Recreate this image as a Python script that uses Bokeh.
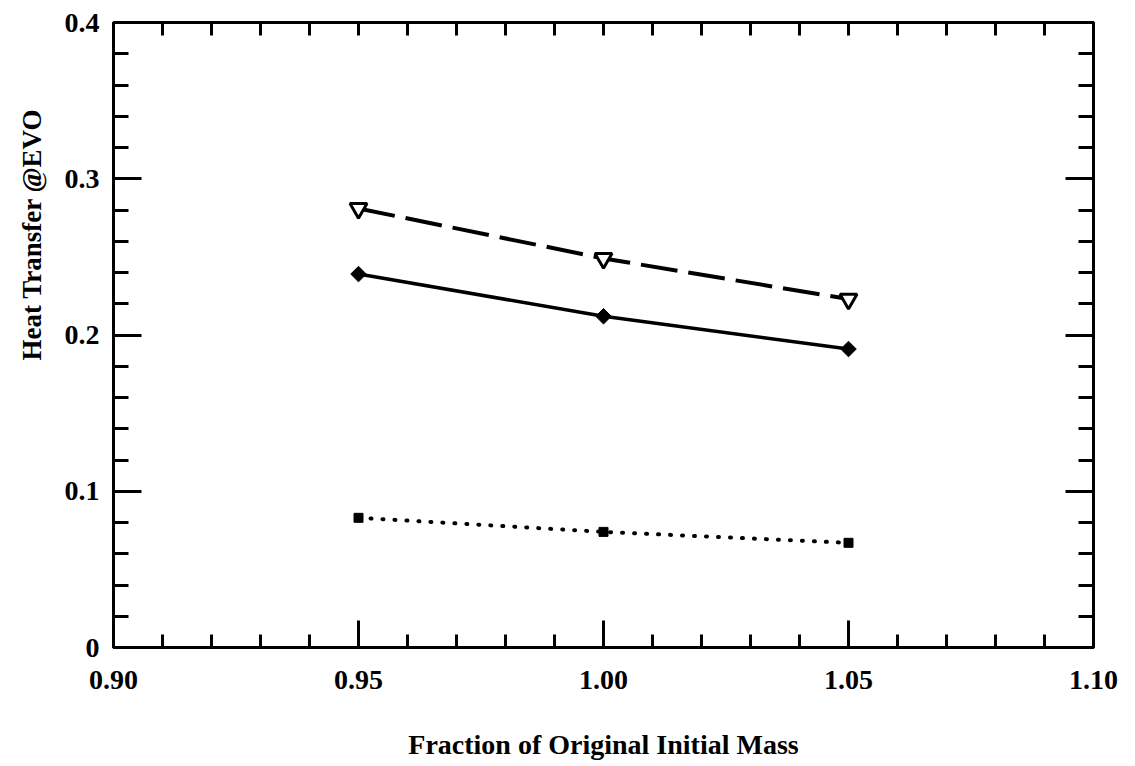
import math
from bokeh.plotting import figure
from bokeh.models import (FixedTicker, LinearAxis, Range1d, Title,
                          CustomLabelingPolicy)
from bokeh.embed import file_html
from bokeh.resources import INLINE

# ---- data ----
x_vals = [0.95, 1.00, 1.05]
tri_vals = [0.281, 0.249, 0.223]
dia_vals = [0.239, 0.212, 0.191]
sq_vals = [0.083, 0.074, 0.067]

x_ticks = [0.90, 0.95, 1.00, 1.05, 1.10]
x_tick_labels = ["0.90", "0.95", "1.00", "1.05", "1.10"]
x_minor = [0.91, 0.92, 0.93, 0.94, 0.96, 0.97, 0.98, 0.99,
           1.01, 1.02, 1.03, 1.04, 1.06, 1.07, 1.08, 1.09]
y_ticks = [0, 0.1, 0.2, 0.3, 0.4]
y_tick_labels = ["0", "0.1", "0.2", "0.3", "0.4"]
y_minor = [0.02, 0.04, 0.06, 0.08, 0.12, 0.14, 0.16, 0.18,
           0.22, 0.24, 0.26, 0.28, 0.32, 0.34, 0.36, 0.38]

x_title = "Fraction of Original Initial Mass"
y_title = "Heat Transfer @EVO"

FONT = "Liberation Serif"

p = figure(width=1131, height=762,
           x_range=Range1d(0.90, 1.10), y_range=Range1d(0, 0.4),
           output_backend="svg", toolbar_location=None,
           min_border_left=113, min_border_right=28,
           min_border_top=22, min_border_bottom=110)
p.xgrid.visible = False
p.ygrid.visible = False
p.outline_line_color = "black"
p.outline_line_width = 3
p.background_fill_color = "white"
p.border_fill_color = "white"

xt = FixedTicker(ticks=x_ticks, minor_ticks=x_minor)
yt = FixedTicker(ticks=y_ticks, minor_ticks=y_minor)

def style_axis(ax, major_in, minor_in):
    ax.axis_line_color = "black"
    ax.axis_line_width = 3
    ax.major_tick_in = major_in
    ax.major_tick_out = 0
    ax.minor_tick_in = minor_in
    ax.minor_tick_out = 0
    ax.major_tick_line_width = 3
    ax.minor_tick_line_width = 3
    ax.major_tick_line_color = "black"
    ax.minor_tick_line_color = "black"
    ax.major_label_text_font = FONT
    ax.major_label_text_font_style = "bold"
    ax.major_label_text_font_size = "28px"
    ax.major_label_text_color = "black"

xa = p.xaxis[0]
xa.ticker = xt
style_axis(xa, 27, 13)
xa.major_label_overrides = dict(zip(x_ticks, x_tick_labels))
xa.major_label_standoff = 23
xa.axis_label = x_title
xa.axis_label_text_font = FONT
xa.axis_label_text_font_style = "bold"
xa.axis_label_text_font_size = "28px"
xa.axis_label_text_color = "black"
xa.axis_label_standoff = 37

ya = p.yaxis[0]
ya.ticker = yt
style_axis(ya, 28, 15)
ya.major_label_overrides = dict(zip(y_ticks, y_tick_labels))
ya.major_label_standoff = 14
ya.major_label_orientation = "horizontal"

no_labels = CustomLabelingPolicy(code="return new Set()")

top = LinearAxis(ticker=xt)
style_axis(top, 13, 13)
top.major_label_policy = no_labels
top.major_label_standoff = 0
p.add_layout(top, "above")

right = LinearAxis(ticker=yt)
style_axis(right, 28, 15)
right.major_label_policy = no_labels
right.major_label_standoff = 0
p.add_layout(right, "right")

# series
p.line(x_vals, tri_vals, line_color="black", line_width=4, line_dash="37 11")
p.scatter(x_vals, tri_vals, marker="inverted_triangle", size=17,
          fill_color="white", line_color="black", line_width=3)

p.line(x_vals, dia_vals, line_color="black", line_width=3.5)
p.scatter(x_vals, dia_vals, marker="square", angle=math.pi / 4, size=11,
          fill_color="black", line_color="black", line_width=1)

p.line(x_vals, sq_vals, line_color="black", line_width=4, line_dash="1 11",
       line_cap="round")
p.scatter(x_vals, sq_vals, marker="square", size=9,
          fill_color="black", line_color="black", line_width=1)

ylab = Title(text=y_title, align="right", offset=86,
             text_font=FONT, text_font_style="bold",
             text_font_size="27px", text_color="black", standoff=29)
p.add_layout(ylab, "left")

open("out.html", "w").write(file_html(p, INLINE))
